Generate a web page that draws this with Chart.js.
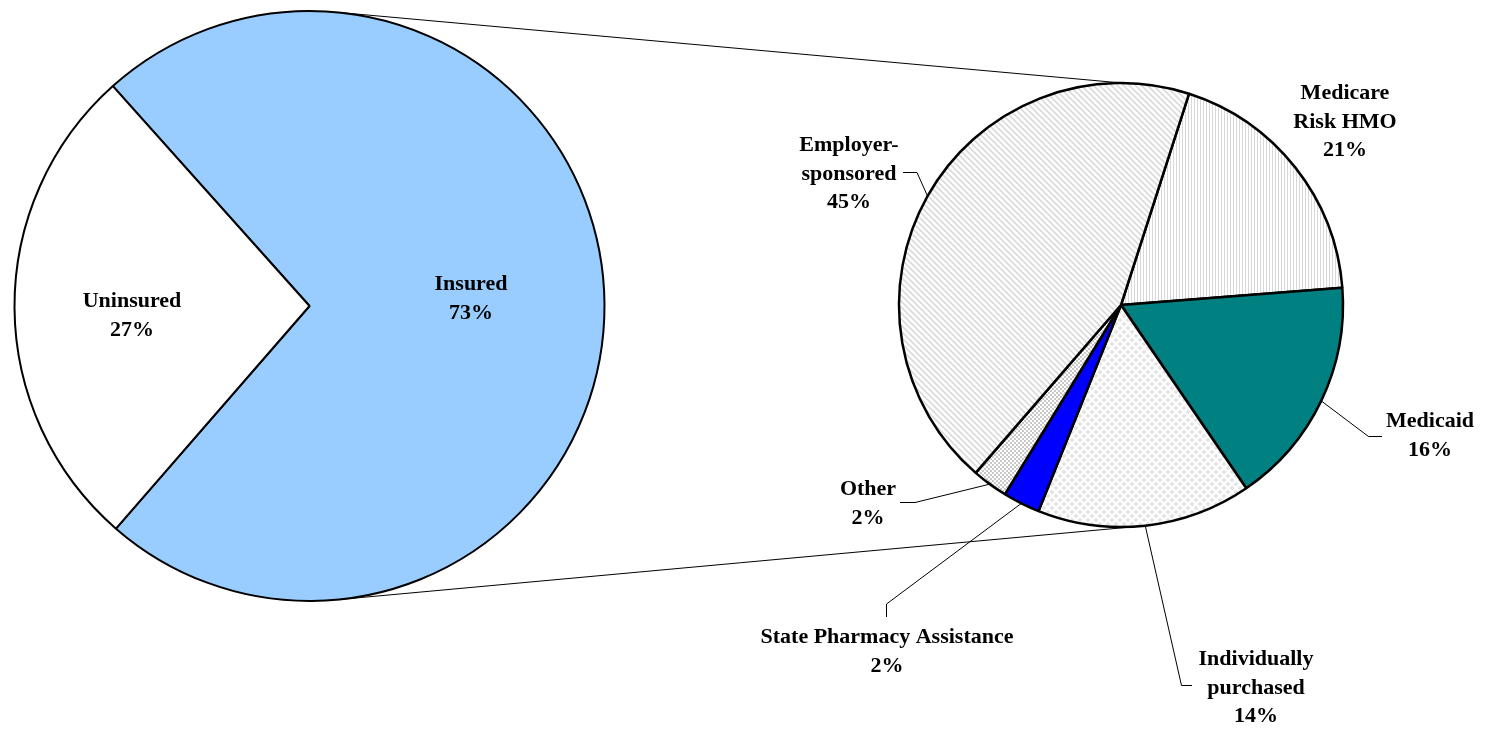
<!DOCTYPE html>
<html>
<head>
<meta charset="utf-8">
<script src="https://cdn.jsdelivr.net/npm/chart.js@4.4.1/dist/chart.umd.min.js"></script>
<style>
  html, body { margin: 0; padding: 0; background: #fff; }
  #wrap { position: relative; width: 1486px; height: 729px; }
  #wrap canvas { position: absolute; left: 0; top: 0; }
</style>
</head>
<body>
<div id="wrap">
  <canvas id="leftPie" width="1486" height="729"></canvas>
  <canvas id="rightPie" width="1486" height="729"></canvas>
</div>
<script>
// first pie
const coverage = ['Insured', 'Uninsured'];
const coverageShare = [73, 27];
const coveragePct = [73, 27];
const coverageLines = [['Insured'], ['Uninsured']];

// second pie, clockwise starting at Medicare
const sources = ['Medicare Risk HMO', 'Medicaid', 'Individually purchased', 'State Pharmacy Assistance', 'Other', 'Employer-sponsored'];
const sourceShare = [18.8, 16.7, 15.6, 2.7, 2.6, 43.6];   // slice sizes as drawn
const sourcePct = [21, 16, 14, 2, 2, 45];                  // numbers printed on labels
const sourceLines = [['Medicare', 'Risk HMO'], ['Medicaid'], ['Individually', 'purchased'], ['State Pharmacy Assistance'], ['Other'], ['Employer-', 'sponsored']];

const FONT = 'bold 22px "Liberation Serif", "Times New Roman", serif';
const LINE_H = 28.5;

// label placement: x centre, first baseline, leader elbow + end
const leftLabelPos = [{x: 471, y: 290}, {x: 132, y: 307}];
const rightLabelPos = [
  {x: 1345, y: 99},
  {x: 1430, y: 427, elbow: [1368.5, 436.5], end: [1382, 436.5]},
  {x: 1256, y: 665, elbow: [1181.5, 685.5], end: [1192, 685.5]},
  {x: 887, y: 643, elbow: [886.5, 604], end: [886.5, 617]},
  {x: 868, y: 495, elbow: [915, 502.5], end: [900, 502.5]},
  {x: 849, y: 151, elbow: [917, 172.5], end: [903, 172.5]}
];
// connector lines between the pies: [angle on left pie, angle on right pie], degrees from 12 o'clock
const connectorAngles = [[5.5, 0.3], [174.5, 174.3]];

function makePattern(size, draw) {
  const c = document.createElement('canvas');
  c.width = size; c.height = size;
  const g = c.getContext('2d');
  g.fillStyle = '#ffffff';
  g.fillRect(0, 0, size, size);
  draw(g, size);
  return g.createPattern(c, 'repeat');
}

const diagPattern = makePattern(6, (g, s) => {
  g.strokeStyle = '#dadada';
  g.lineWidth = 1.6;
  for (let k = -1; k <= 1; k++) {
    g.beginPath();
    g.moveTo(k * s - 1, -1);
    g.lineTo(k * s + s + 1, s + 1);
    g.stroke();
  }
});
const vertPattern = makePattern(3, (g, s) => {
  g.fillStyle = '#d8d8d8';
  g.fillRect(0, 0, 1, s);
});
const diamondPattern = makePattern(8, (g, s) => {
  g.fillStyle = '#e4e4e4';
  const pts = [[0, 0], [s, 0], [0, s], [s, s], [s / 2, s / 2]];
  pts.forEach(([cx, cy]) => {
    g.beginPath();
    g.moveTo(cx, cy - 2.5);
    g.lineTo(cx + 2.5, cy);
    g.lineTo(cx, cy + 2.5);
    g.lineTo(cx - 2.5, cy);
    g.closePath();
    g.fill();
  });
});
const checkPattern = makePattern(4, (g) => {
  g.fillStyle = '#c8c8c8';
  g.fillRect(0, 0, 2, 2);
  g.fillRect(2, 2, 2, 2);
});

function drawLabel(ctx, lines, x, y) {
  ctx.save();
  ctx.font = FONT;
  ctx.fillStyle = '#000';
  ctx.textAlign = 'center';
  ctx.textBaseline = 'alphabetic';
  lines.forEach((t, i) => ctx.fillText(t, x, y + i * LINE_H));
  ctx.restore();
}

function edgePoint(arc, deg) {
  const a = deg * Math.PI / 180;
  return [arc.x + arc.outerRadius * Math.sin(a), arc.y - arc.outerRadius * Math.cos(a)];
}

const leftLabels = {
  id: 'leftLabels',
  afterDraw(chart) {
    const ctx = chart.ctx;
    coverage.forEach((c, i) => {
      const p = leftLabelPos[i];
      drawLabel(ctx, coverageLines[i].concat([coveragePct[i] + '%']), p.x, p.y);
    });
  }
};

const leftChart = new Chart(document.getElementById('leftPie'), {
  type: 'pie',
  data: {
    labels: coverage,
    datasets: [{
      data: coverageShare,
      backgroundColor: ['#99ccff', '#ffffff'],
      borderColor: '#000000',
      borderWidth: 2
    }]
  },
  options: {
    responsive: false,
    animation: false,
    events: [],
    rotation: 318.2,
    layout: { padding: { left: 13.5, top: 10, right: 880.5, bottom: 127 } },
    plugins: { legend: { display: false }, tooltip: { enabled: false } }
  },
  plugins: [leftLabels]
});

const rightLabels = {
  id: 'rightLabels',
  afterDraw(chart) {
    const ctx = chart.ctx;
    const arcs = chart.getDatasetMeta(0).data;
    const bigArc = leftChart.getDatasetMeta(0).data[0];
    ctx.save();
    ctx.strokeStyle = '#000';
    ctx.lineWidth = 1;
    // connectors between the two pies
    connectorAngles.forEach(([la, ra]) => {
      const a = edgePoint(bigArc, la);
      const b = edgePoint(arcs[0], ra);
      ctx.beginPath();
      ctx.moveTo(a[0], a[1]);
      ctx.lineTo(b[0], b[1]);
      ctx.stroke();
    });
    // leader lines
    arcs.forEach((arc, i) => {
      const p = rightLabelPos[i];
      if (!p.elbow) return;
      const mid = (arc.startAngle + arc.endAngle) / 2;
      const sx = arc.x + arc.outerRadius * Math.cos(mid);
      const sy = arc.y + arc.outerRadius * Math.sin(mid);
      ctx.beginPath();
      ctx.moveTo(sx, sy);
      ctx.lineTo(p.elbow[0], p.elbow[1]);
      ctx.lineTo(p.end[0], p.end[1]);
      ctx.stroke();
    });
    ctx.restore();
    sources.forEach((s, i) => {
      const p = rightLabelPos[i];
      drawLabel(ctx, sourceLines[i].concat([sourcePct[i] + '%']), p.x, p.y);
    });
  }
};

new Chart(document.getElementById('rightPie'), {
  type: 'pie',
  data: {
    labels: sources,
    datasets: [{
      data: sourceShare,
      backgroundColor: [vertPattern, '#008080', diamondPattern, '#0000ff', checkPattern, diagPattern],
      borderColor: '#000000',
      borderWidth: 2.5
    }]
  },
  options: {
    responsive: false,
    animation: false,
    events: [],
    rotation: 17.85,
    layout: { padding: { left: 897.75, top: 81.75, right: 141.75, bottom: 200.75 } },
    plugins: { legend: { display: false }, tooltip: { enabled: false } }
  },
  plugins: [rightLabels]
});
</script>
</body>
</html>
